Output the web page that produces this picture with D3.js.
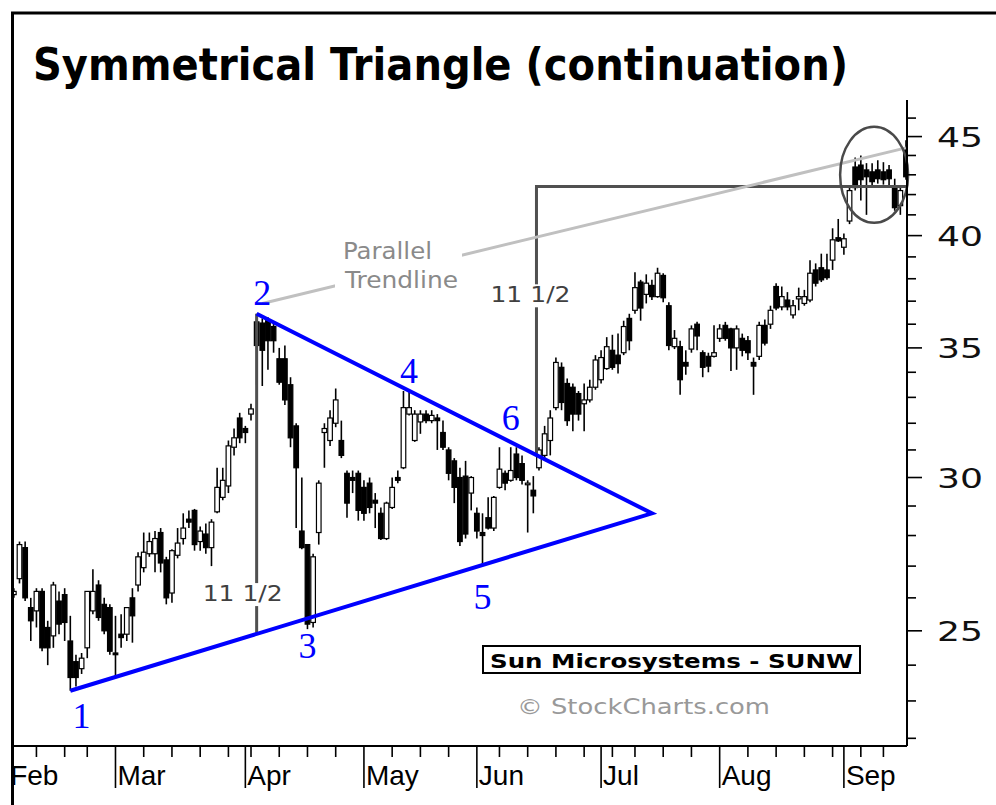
<!DOCTYPE html>
<html><head><meta charset="utf-8">
<script src="https://cdn.jsdelivr.net/npm/d3@7"></script>
<style>html,body{margin:0;padding:0;background:#fff;overflow:hidden}svg{display:block}</style>
</head><body>
<svg id="c" width="996" height="805"></svg>
<script>
// ---------------- DATA ----------------
const firstDay = "1999-02-01", lastDay = "1999-09-17";
const holidays = ["1999-02-15","1999-04-02","1999-05-31","1999-07-05","1999-09-06"];
const opens = [26.4,26.1,26.6,27.6,25.7,25.6,26.2,25.1,24.85,25.9,26.1,24.7,24.1,23.9,24.5,25.6,26.4,25.8,25.7,
24.35,24.9,24.9,26.0,26.4,26.95,27.4,27.4,28.1,27.2,26.15,27.35,27.9,28.55,28.85,27.8,28.05,27.6,28.8,29.3,29.7,31.1,32.2,
31.8,32.35,36.1,36.05,36.15,35.9,34.55,34.55,33.5,31.9,28.15,27.7,25.25,28.1,31.65,31.35,32.0,31.35,30.15,30.0,30.15,
29.65,29.8,29.2,28.75,27.9,28.95,30.0,30.35,32.35,31.35,32.05,32.35,32.1,32.2,31.65,31.0,30.6,30.0,30.05,29.45,
28.75,28.1,28.6,28.25,29.65,30.15,29.9,30.85,30.5,29.75,29.55,30.35,30.8,31.35,32.6,34.2,33.55,33.4,33.15,32.75,32.9,33.4,
33.7,34.15,34.9,34.7,34.8,36.25,36.6,37.85,37.3,37.7,37.2,38.15,36.8,35.05,35.05,34.4,34.95,36.0,34.8,34.65,34.65,
35.4,35.95,35.8,35.0,35.4,35.3,34.4,34.65,35.95,36.0,37.65,36.75,37.05,36.4,37.1,36.9,37.05,38.4,38.5,38.4,38.85,39.9,
39.45,40.7,43.4,43.5,43.25,43.15,43.25,43.15,43.25,42.35,41.45,44.4];
const highs = [26.8,26.3,27.8,27.8,26.0,26.3,26.3,25.3,26.5,26.2,26.3,25.45,24.3,24.35,26.2,26.9,26.55,26.0,25.8,
25.45,25.5,25.7,26.3,27.45,28.1,28.1,28.15,28.25,27.3,27.55,28.25,28.75,28.85,28.9,28.3,28.4,28.55,30.35,30.35,31.35,31.8,32.4,
31.9,32.75,36.45,36.25,36.3,36.1,35.0,35.1,33.8,32.0,30.0,27.7,27.4,29.9,32.0,32.5,33.35,32.1,30.25,30.25,30.25,
29.9,30.0,29.45,28.95,29.15,30.0,30.25,33.25,33.25,32.5,32.5,32.5,32.5,32.35,32.1,31.1,30.7,30.35,30.6,30.05,
28.95,28.75,29.3,29.35,31.1,30.25,31.1,31.1,30.8,29.9,30.05,31.1,31.9,32.5,34.6,34.4,33.75,33.55,33.25,33.55,33.7,34.7,
34.9,35.45,35.55,35.6,36.15,36.45,38.3,37.95,38.2,37.95,38.5,38.25,36.95,35.75,35.3,34.9,35.95,36.1,34.9,34.8,35.95,
36.0,36.1,35.85,35.95,35.6,35.5,34.6,36.1,36.2,36.8,37.8,37.65,37.4,37.05,37.6,37.5,38.85,38.7,39.15,39.15,40.35,40.8,
40.1,42.45,43.9,44.0,43.6,43.6,43.75,43.65,43.5,42.8,42.45,44.8];
const lows = [26.0,26.0,26.45,25.9,24.7,25.1,24.4,24.0,24.5,24.9,24.7,23.28,23.4,23.75,24.2,25.5,25.3,24.9,24.3,
23.65,24.5,24.7,24.65,26.2,26.8,27.3,26.8,26.8,25.8,25.85,27.25,27.7,28.25,27.5,27.5,27.4,27.0,28.75,29.2,29.45,30.8,31.25,
31.25,32.1,33.5,33.45,34.1,34.8,33.5,32.7,31.1,28.25,27.55,25.05,25.1,27.7,30.35,31.15,31.85,30.7,28.6,29.45,28.5,
28.5,28.75,28.25,27.85,27.85,28.9,29.8,30.3,32.3,31.3,31.6,32.0,32.0,31.0,31.0,29.9,29.1,27.65,27.9,28.85,
27.9,27.0,28.2,28.15,29.6,29.55,29.85,29.9,29.75,28.1,28.75,30.25,30.7,30.8,32.5,32.5,31.9,31.7,32.1,31.7,32.8,33.3,
33.55,34.1,34.1,33.95,34.7,34.9,36.45,36.15,36.9,37.05,37.15,36.95,34.9,34.95,33.1,33.9,34.8,34.9,33.8,34.0,34.6,
35.25,35.3,34.05,34.1,34.65,34.5,33.1,34.5,35.1,35.8,36.6,36.6,36.6,36.25,36.6,36.8,36.95,37.65,37.85,37.95,38.4,39.7,
39.1,40.55,42.2,41.7,41.0,42.35,42.55,42.5,42.35,41.2,41.0,42.75];
const closes = [26.2,26.2,27.7,26.0,25.3,26.2,24.5,24.5,26.4,25.2,25.25,23.65,23.65,24.2,26.2,26.2,25.4,25.0,24.4,
24.3,24.8,25.7,25.45,27.3,27.45,27.8,27.9,27.1,26.0,27.5,27.75,28.25,28.45,27.7,28.15,27.6,28.45,29.65,29.9,31.15,31.45,31.45,
31.65,32.55,35.1,34.9,35.3,35.3,33.6,32.9,31.45,30.35,27.6,25.2,27.3,29.8,31.8,32.2,32.9,30.8,29.1,29.9,28.85,
28.75,28.95,29.1,27.9,29.1,29.65,29.9,32.6,32.6,32.35,32.35,32.1,32.3,32.1,31.1,30.15,29.65,27.8,28.05,30.0,
28.15,28.0,28.25,29.3,30.3,29.8,30.25,30.0,29.9,29.8,29.35,31.0,31.6,32.2,34.4,32.8,32.1,32.35,32.35,32.9,33.4,34.5,
34.6,35.05,34.2,34.35,35.9,35.3,37.6,36.7,37.8,37.2,38.25,37.15,35.1,35.4,33.7,34.25,35.8,35.5,34.2,34.25,34.8,
35.8,35.4,35.0,35.8,34.9,34.8,34.25,35.95,35.2,36.6,36.7,37.2,36.75,36.8,37.2,37.2,38.25,37.8,37.95,38.05,39.8,39.75,
39.85,42.2,42.35,42.75,42.9,42.65,42.8,42.75,42.8,41.35,42.2,42.9];

const priceMajorTicks = [25, 30, 35, 40, 45];
const priceMinorTicks = [22,23,24,26,27,28,29,31,32,33,34,36,37,38,39,41,42,43,44,46];
const monthNames = ["Jan","Feb","Mar","Apr","May","Jun","Jul","Aug","Sep","Oct","Nov","Dec"];

// triangle turning points (date, price)
const trianglePoints = [
  {name:"p1", date:"1999-02-17", price:23.28},
  {name:"p2", date:"1999-04-06", price:36.45},
  {name:"apex", date:"1999-07-15", price:28.75}
];
const breakoutDate = "1999-06-16";
const targetPrice = 42.4;           // breakout + 11 1/2
const parallelLine = [{date:"1999-04-07", price:36.9}, {date:"1999-09-17", price:44.4}];
const circleCenter = {date:"1999-09-09", price:43.0};
const pointLabels = [
  {text:"1", date:"1999-02-19", price:22.28},
  {text:"2", date:"1999-04-07", price:36.83},
  {text:"3", date:"1999-04-19", price:24.21},
  {text:"4", date:"1999-05-13", price:33.56},
  {text:"5", date:"1999-06-02", price:25.67},
  {text:"6", date:"1999-06-09", price:31.73}
];

// ---------------- CALENDAR ----------------
const parse = d3.utcParse("%Y-%m-%d"), fmt = d3.utcFormat("%Y-%m-%d");
const tradingDays = d3.utcDays(parse(firstDay), d3.utcDay.offset(parse(lastDay), 1))
  .filter(d => d.getUTCDay() !== 0 && d.getUTCDay() !== 6 && !holidays.includes(fmt(d)));
const keys = tradingDays.map(fmt);
const candles = keys.map((k, i) => ({key:k, date:tradingDays[i], o:opens[i], h:highs[i], l:lows[i], c:closes[i]}));

// ---------------- SCALES ----------------
const plotL = 14, plotR = 907, plotT = 100, plotB = 746;
const x = d3.scalePoint().domain(keys).range([8.2, 906]);
const y = d3.scaleLog().domain([21.8, 47]).range([plotB, plotT]);

const svg = d3.select("#c");
svg.append("rect").attr("width", 996).attr("height", 805).attr("fill", "#fff");

const defs = svg.append("defs");
defs.append("clipPath").attr("id", "plotclip")
  .append("rect").attr("x", plotL).attr("y", 0).attr("width", plotR - plotL).attr("height", plotB);
defs.append("clipPath").attr("id", "axclip")
  .append("rect").attr("x", plotL).attr("y", 0).attr("width", 996 - plotL).attr("height", 805);

// title
svg.append("text").attr("x", 33).attr("y", 80)
  .attr("font-family", "'DejaVu Sans', Verdana, sans-serif").attr("font-weight", "bold")
  .attr("font-size", 45).attr("textLength", 815).attr("lengthAdjust", "spacingAndGlyphs")
  .attr("fill", "#000").text("Symmetrical Triangle (continuation)");

const g = svg.append("g").attr("clip-path", "url(#plotclip)");

// candles
g.selectAll("line.wick").data(candles).join("line").attr("class", "wick")
  .attr("x1", d => x(d.key)).attr("x2", d => x(d.key))
  .attr("y1", d => y(d.h)).attr("y2", d => y(d.l))
  .attr("stroke", "#000").attr("stroke-width", 1.6);
const bw = 4.6;
g.selectAll("rect.body").data(candles).join("rect").attr("class", "body")
  .attr("x", d => x(d.key) - bw / 2)
  .attr("y", d => y(Math.max(d.o, d.c)))
  .attr("width", bw)
  .attr("height", d => Math.max(1.6, Math.abs(y(d.o) - y(d.c))))
  .attr("fill", d => d.c >= d.o ? "#fff" : "#000")
  .attr("stroke", "#000").attr("stroke-width", 1.2);

// triangle
const tp = Object.fromEntries(trianglePoints.map(p => [p.name, {x: x(p.date), y: y(p.price)}]));
const lineAt = (a, b, xx) => a.y + (b.y - a.y) * (xx - a.x) / (b.x - a.x);

// measuring lines
const mCol = "#505050";
const xm1 = x("1999-04-06");
svg.append("line").attr("x1", xm1).attr("x2", xm1).attr("y1", tp.p2.y).attr("y2", lineAt(tp.p1, tp.apex, xm1))
  .attr("stroke", mCol).attr("stroke-width", 3);
const xb = x(breakoutDate) - 2.5;
const yb = lineAt(tp.p2, tp.apex, xb);
svg.append("path").attr("d", `M${xb},${yb}L${xb},${y(targetPrice)}L${plotR},${y(targetPrice)}`)
  .attr("fill", "none").attr("stroke", mCol).attr("stroke-width", 3);

function labelWithBg(txt, xx, yy, opts) {
  const gg = svg.append("g");
  const r = gg.append("rect").attr("fill", "#fff");
  const t = gg.append("text").attr("x", xx).attr("y", yy).attr("text-anchor", opts.anchor || "middle")
    .attr("font-family", opts.family || "'DejaVu Sans', Verdana, sans-serif")
    .attr("font-size", opts.size).attr("fill", opts.color).text(txt);
  if (opts.len) t.attr("textLength", opts.len).attr("lengthAdjust", "spacingAndGlyphs");
  const b = t.node().getBBox();
  r.attr("x", b.x - 2).attr("y", b.y + 2).attr("width", b.width + 4).attr("height", b.height - 2);
  return gg;
}
labelWithBg("11 1/2", xm1 - 14, y(25.9), {size: 22, color: "#404040", len: 80});
labelWithBg("11 1/2", xb - 6, y(36.95), {size: 22, color: "#404040", len: 80});

// triangle lines
svg.append("path")
  .attr("d", `M${tp.p1.x},${tp.p1.y}L${tp.apex.x},${tp.apex.y}L${tp.p2.x},${tp.p2.y}`)
  .attr("fill", "none").attr("stroke", "#0000ff").attr("stroke-width", 4).attr("stroke-linejoin", "miter");

// parallel trendline (light gray) with gap for text
const pl0 = {x: x(parallelLine[0].date), y: y(parallelLine[0].price)};
const pl1 = {x: x(parallelLine[1].date), y: y(parallelLine[1].price)};
svg.append("line").attr("x1", pl0.x).attr("y1", pl0.y).attr("x2", pl1.x).attr("y2", pl1.y)
  .attr("stroke", "#c0c0c0").attr("stroke-width", 3);
const ptG = svg.append("g");
const ptBg = ptG.append("rect").attr("fill", "#fff");
const ptx = x("1999-04-28") - 4;
const t1 = ptG.append("text").attr("x", ptx).attr("y", y(38.9)).attr("font-family", "'DejaVu Sans', Verdana, sans-serif")
  .attr("font-size", 23).attr("fill", "#8a8a8a").attr("textLength", 89).attr("lengthAdjust", "spacingAndGlyphs").text("Parallel");
const t2 = ptG.append("text").attr("x", ptx + 2).attr("y", y(37.59)).attr("font-family", "'DejaVu Sans', Verdana, sans-serif")
  .attr("font-size", 23).attr("fill", "#8a8a8a").attr("textLength", 113).attr("lengthAdjust", "spacingAndGlyphs").text("Trendline");
const b1 = t1.node().getBBox(), b2 = t2.node().getBBox();
ptBg.attr("x", b1.x - 8).attr("y", b1.y).attr("width", Math.max(b1.x + b1.width, b2.x + b2.width) - b1.x + 12)
  .attr("height", b2.y + b2.height - b1.y);

// circle
svg.append("ellipse").attr("cx", x(circleCenter.date) + 2).attr("cy", y(circleCenter.price))
  .attr("rx", 34).attr("ry", 48).attr("fill", "none").attr("stroke", "#4a4a4a").attr("stroke-width", 2.5);

// point labels
svg.selectAll("text.pl").data(pointLabels).join("text").attr("class", "pl")
  .attr("x", d => x(d.date)).attr("y", d => y(d.price)).attr("text-anchor", "middle")
  .attr("font-family", "'Liberation Serif', 'Times New Roman', serif").attr("font-size", 36)
  .attr("fill", "#0000ff").text(d => d.text);

// ---------------- AXES ----------------
// bottom axis
svg.append("line").attr("x1", plotL).attr("x2", plotR).attr("y1", plotB).attr("y2", plotB)
  .attr("stroke", "#000").attr("stroke-width", 2);
const monthStarts = candles.filter((d, i) => i === 0 || d.date.getUTCMonth() !== candles[i - 1].date.getUTCMonth());
const weekStarts = candles.filter((d, i) => i > 0 && d.date.getUTCMonth() === candles[i - 1].date.getUTCMonth()
  && ((d.date - candles[i - 1].date) > 86400000 * 2.5 || d.date.getUTCDay() < candles[i - 1].date.getUTCDay()));
const ax = svg.append("g").attr("clip-path", "url(#axclip)");
ax.selectAll("line.mt").data(monthStarts).join("line")
  .attr("x1", d => x(d.key)).attr("x2", d => x(d.key)).attr("y1", plotB).attr("y2", 788)
  .attr("stroke", "#000").attr("stroke-width", 1.6);
ax.selectAll("line.wt").data(weekStarts).join("line")
  .attr("x1", d => x(d.key)).attr("x2", d => x(d.key)).attr("y1", plotB).attr("y2", 757)
  .attr("stroke", "#000").attr("stroke-width", 1.6);
ax.selectAll("text.ml").data(monthStarts).join("text")
  .attr("x", d => x(d.key) + 2).attr("y", 785)
  .attr("font-family", "'Liberation Sans Narrow', 'Liberation Sans', sans-serif").attr("font-size", 28)
  .attr("fill", "#000").text(d => monthNames[d.date.getUTCMonth()]);

// right axis
svg.append("line").attr("x1", plotR).attr("x2", plotR).attr("y1", plotT).attr("y2", plotB)
  .attr("stroke", "#000").attr("stroke-width", 2);
svg.selectAll("line.ymin").data(priceMinorTicks).join("line")
  .attr("x1", plotR).attr("x2", plotR + 9).attr("y1", d => y(d)).attr("y2", d => y(d))
  .attr("stroke", "#000").attr("stroke-width", 1.6);
svg.selectAll("line.ymaj").data(priceMajorTicks).join("line")
  .attr("x1", plotR).attr("x2", plotR + 15).attr("y1", d => y(d)).attr("y2", d => y(d))
  .attr("stroke", "#000").attr("stroke-width", 1.6);
svg.selectAll("text.yl").data(priceMajorTicks).join("text")
  .attr("x", 937).attr("y", d => y(d) + 10)
  .attr("font-family", "'DejaVu Sans', Verdana, sans-serif").attr("font-size", 27)
  .attr("textLength", 46).attr("lengthAdjust", "spacingAndGlyphs")
  .attr("fill", "#111").text(d => d);

// info box
svg.append("rect").attr("x", 483).attr("y", 646).attr("width", 377).attr("height", 27)
  .attr("fill", "#fff").attr("stroke", "#000").attr("stroke-width", 2);
svg.append("text").attr("x", 490).attr("y", 668).attr("font-family", "'DejaVu Sans', Verdana, sans-serif")
  .attr("font-weight", "bold").attr("font-size", 20).attr("textLength", 363).attr("lengthAdjust", "spacingAndGlyphs")
  .text("Sun Microsystems - SUNW");
svg.append("text").attr("x", 517).attr("y", 714).attr("font-family", "'DejaVu Sans', Verdana, sans-serif")
  .attr("font-size", 22).attr("fill", "#999").attr("textLength", 253).attr("lengthAdjust", "spacingAndGlyphs")
  .text("© StockCharts.com");

// frame
svg.append("path").attr("d", "M12.5,805V13H996").attr("fill", "none").attr("stroke", "#000").attr("stroke-width", 3);
</script>
</body></html>
